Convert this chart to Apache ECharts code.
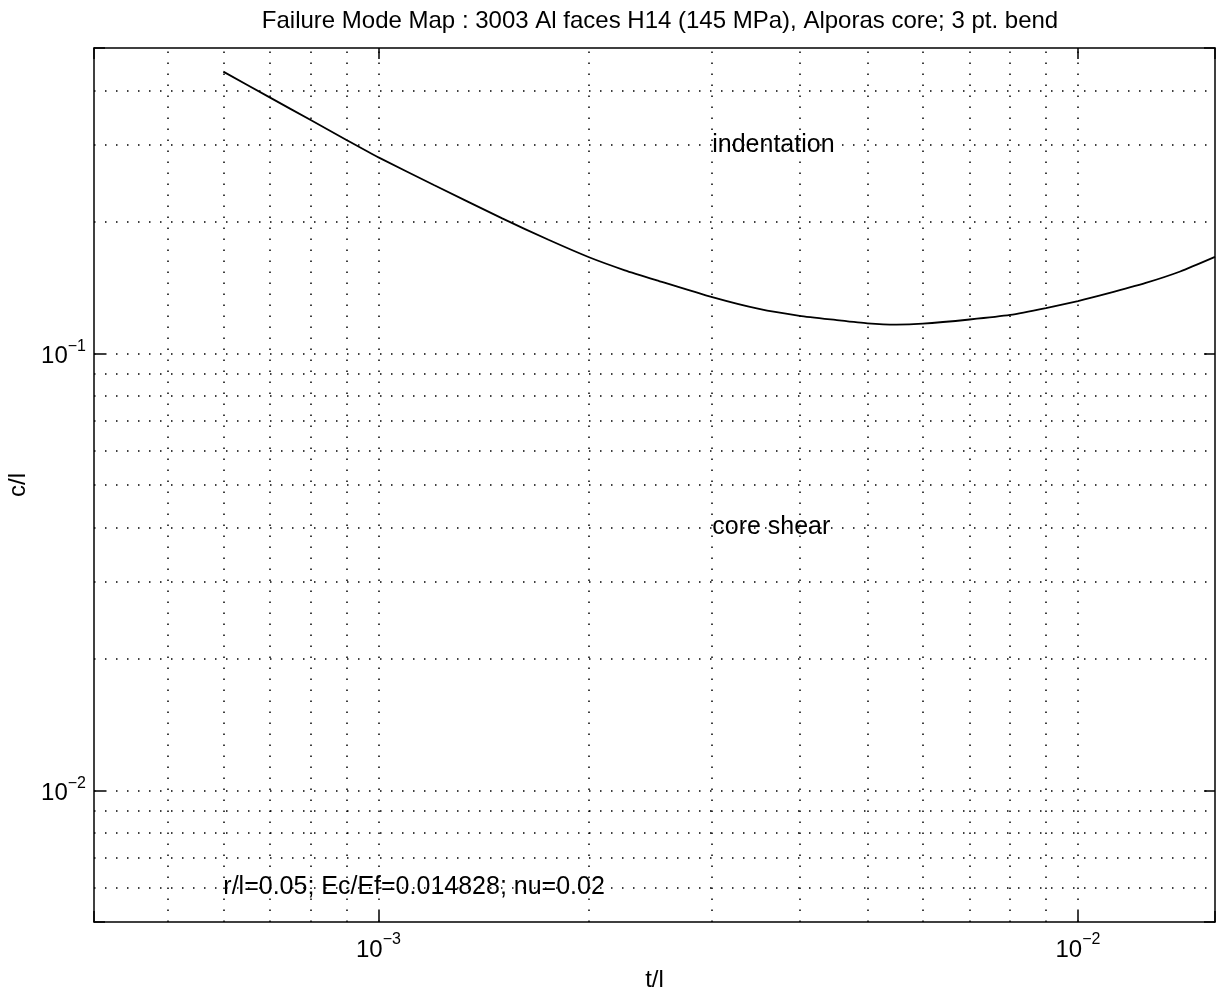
<!DOCTYPE html>
<html>
<head>
<meta charset="utf-8">
<title>Failure Mode Map</title>
<script src="https://cdn.jsdelivr.net/npm/echarts@6/dist/echarts.min.js"></script>
<style>
  html, body { margin: 0; padding: 0; background: #fff; }
  #main { width: 1217px; height: 994px; }
</style>
</head>
<body>
<div id="main"></div>
<script>
// boundary between indentation and core shear
var tl = [0.0006, 0.0007, 0.0008, 0.0009, 0.001, 0.0012, 0.0015, 0.00175, 0.002, 0.00225, 0.0025, 0.003,
          0.0035, 0.004, 0.0045, 0.005, 0.0055, 0.006, 0.007, 0.008, 0.009, 0.01,
          0.011, 0.0125, 0.014, 0.0157];
var cl = [0.4415, 0.385, 0.342, 0.308, 0.281, 0.243, 0.204, 0.182, 0.166, 0.155, 0.147, 0.1345,
          0.1264, 0.1219, 0.1193, 0.1172, 0.1164, 0.117, 0.1196, 0.1225, 0.127, 0.1318,
          0.137, 0.145, 0.154, 0.1663];

// dotted grid (MATLAB log grid)
var xGrid = [0.0005, 0.0006, 0.0007, 0.0008, 0.0009, 0.001,
             0.002, 0.003, 0.004, 0.005, 0.006, 0.007, 0.008, 0.009, 0.01];
var yGrid = [0.006, 0.007, 0.008, 0.009, 0.01,
             0.02, 0.03, 0.04, 0.05, 0.06, 0.07, 0.08, 0.09, 0.1,
             0.2, 0.3, 0.4];

// text annotations (placed in data coordinates)
var noteText = ['indentation', 'core shear', 'r/l=0.05; Ec/Ef=0.014828; nu=0.02'];
var noteX = [0.003, 0.003, 0.0006];
var noteY = [0.3, 0.04, 0.006];

var xMin = 3.92e-4, xMax = 0.0157;
var yMin = 0.005, yMax = 0.5;

var FONT = '"Liberation Sans", Arial, Helvetica, sans-serif';

function powLabel(v) {
  var e = Math.log10(v);
  var r = Math.round(e);
  if (Math.abs(e - r) > 1e-6) return '';
  return '{b|10}{s|\u2212' + Math.abs(r) + '}';
}

var richPow = {
  b: { fontSize: 24, fontFamily: FONT, color: '#000', verticalAlign: 'bottom', lineHeight: 30 },
  s: { fontSize: 16, fontFamily: FONT, color: '#000', verticalAlign: 'top', lineHeight: 30 }
};

var axisLine = { onZero: false, lineStyle: { color: '#000', width: 1.5 } };
var axisTick = { inside: true, length: 11, lineStyle: { color: '#000', width: 1.5 } };

// each grid line runs across the whole plot box
var gridLines = xGrid.map(function (v) { return { coords: [[v, yMin], [v, yMax]] }; })
  .concat(yGrid.map(function (v) { return { coords: [[xMin, v], [xMax, v]] }; }));

let chart = echarts.init(document.getElementById('main'), null, { renderer: 'canvas' });

let options = {
  animation: false,
  backgroundColor: '#fff',
  title: {
    text: 'Failure Mode Map : 3003 Al faces H14 (145 MPa), Alporas core; 3 pt. bend',
    left: 655,
    textAlign: 'center',
    top: 4,
    textStyle: { fontSize: 24, fontWeight: 'normal', color: '#000', fontFamily: FONT }
  },
  grid: { left: 94, right: 2, top: 48, bottom: 72, containLabel: false, outerBoundsMode: 'none' },
  xAxis: [
    {
      type: 'log', logBase: 10, min: xMin, max: xMax, position: 'bottom',
      axisLine: axisLine, axisTick: axisTick,
      axisLabel: { formatter: powLabel, margin: 10, rich: richPow },
      splitLine: { show: false },
      name: 't/l', nameLocation: 'middle', nameGap: 46,
      nameTextStyle: { fontSize: 24, color: '#000', fontFamily: FONT }
    },
    {
      type: 'log', logBase: 10, min: xMin, max: xMax, position: 'top',
      axisLine: axisLine, axisTick: axisTick,
      axisLabel: { show: false }, splitLine: { show: false }
    }
  ],
  yAxis: [
    {
      type: 'log', logBase: 10, min: yMin, max: yMax, position: 'left',
      axisLine: axisLine, axisTick: axisTick,
      axisLabel: { formatter: powLabel, margin: 8, rich: richPow },
      splitLine: { show: false },
      name: 'c/l', nameLocation: 'middle', nameGap: 52,
      nameTextStyle: { fontSize: 24, color: '#000', fontFamily: FONT }
    },
    {
      type: 'log', logBase: 10, min: yMin, max: yMax, position: 'right',
      axisLine: axisLine, axisTick: axisTick,
      axisLabel: { show: false }, splitLine: { show: false }
    }
  ],
  series: [
    {
      name: 'grid',
      type: 'lines',
      coordinateSystem: 'cartesian2d',
      xAxisIndex: 0, yAxisIndex: 0,
      silent: true,
      z: 1,
      lineStyle: { color: '#000', type: [1.5, 9.5], width: 1.5, opacity: 1 },
      data: gridLines
    },
    {
      name: 'boundary',
      type: 'line',
      xAxisIndex: 0, yAxisIndex: 0,
      data: tl.map(function (x, i) { return [x, cl[i]]; }),
      showSymbol: false,
      smooth: 0.2,
      lineStyle: { color: '#000', width: 1.8 },
      z: 3
    },
    {
      name: 'notes',
      type: 'scatter',
      xAxisIndex: 0, yAxisIndex: 0,
      symbolSize: 0,
      silent: true,
      z: 4,
      itemStyle: { opacity: 1 },
      label: {
        show: true, position: 'right', distance: 0,
        color: '#000', fontSize: 25, fontFamily: FONT,
        textBorderWidth: 0, opacity: 1
      },
      data: noteX.map(function (x, i) {
        return { value: [x, noteY[i]], label: { formatter: noteText[i] } };
      })
    }
  ]
};

chart.setOption(options);
</script>
</body>
</html>
